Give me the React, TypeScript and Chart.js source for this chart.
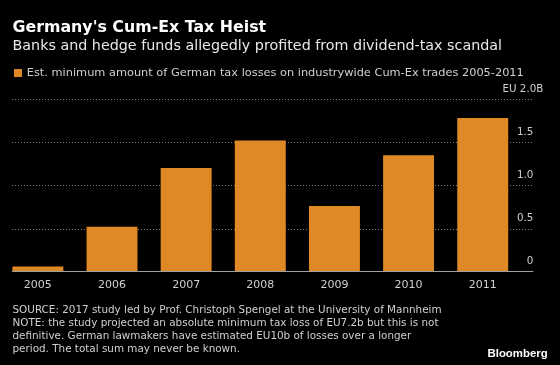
import React, { useEffect, useRef } from "react";
import { Chart, registerables } from "chart.js";

Chart.register(...registerables);

// ---- data ----
const years: string[] = ["2005", "2006", "2007", "2008", "2009", "2010", "2011"];
const taxLossesEurBn: number[] = [0.06, 0.52, 1.2, 1.52, 0.76, 1.35, 1.78];
const yTickValues: number[] = [0, 0.5, 1.0, 1.5, 2.0];
const yTickLabels: string[] = ["0", "0.5", "1.0", "1.5", "EU 2.0B"];

const titleText = "Germany's Cum-Ex Tax Heist";
const subtitleText = "Banks and hedge funds allegedly profited from dividend-tax scandal";
const legendText = "Est. minimum amount of German tax losses on industrywide Cum-Ex trades 2005-2011";
const footnoteLines: string[] = [
  "SOURCE: 2017 study led by Prof. Christoph Spengel at the University of Mannheim",
  "NOTE: the study projected an absolute minimum tax loss of EU7.2b but this is not",
  "definitive. German lawmakers have estimated EU10b of losses over a longer",
  "period. The total sum may never be known.",
];
const brandText = "Bloomberg";

// ---- style ----
const BAR_COLOR = "#de8926";
const FONT = "'DejaVu Sans', sans-serif";

const axisPlugin = {
  id: "bbgAxis",
  beforeDatasetsDraw(chart: any) {
    const { ctx, chartArea, scales } = chart;
    const y = scales.y;
    const first = chart.getDatasetMeta(0).data[0] as any;
    const left = Math.round(first.x - first.width / 2);
    const right = chartArea.right + 13.5;
    ctx.save();
    ctx.strokeStyle = "#7a7a7a";
    ctx.lineWidth = 1;
    ctx.setLineDash([1, 2]);
    yTickValues.forEach((v) => {
      if (v === 0) return;
      const py = Math.round(y.getPixelForValue(v)) + 0.5;
      ctx.beginPath();
      ctx.moveTo(left, py);
      ctx.lineTo(right, py);
      ctx.stroke();
    });
    ctx.restore();
  },
  afterDatasetsDraw(chart: any) {
    const { ctx, chartArea, scales } = chart;
    const y = scales.y;
    const x = scales.x;
    const first = chart.getDatasetMeta(0).data[0] as any;
    const left = Math.round(first.x - first.width / 2);
    const right = chartArea.right + 13.5;
    ctx.save();
    // baseline
    const y0 = y.getPixelForValue(0);
    ctx.strokeStyle = "#a0a0a0";
    ctx.lineWidth = 1;
    ctx.beginPath();
    ctx.moveTo(left, Math.round(y0) - 0.5);
    ctx.lineTo(right, Math.round(y0) - 0.5);
    ctx.stroke();
    // y tick labels
    ctx.fillStyle = "#cfcfcf";
    ctx.font = `10.3px ${FONT}`;
    ctx.textAlign = "right";
    ctx.textBaseline = "alphabetic";
    yTickValues.forEach((v, i) => {
      const py = y.getPixelForValue(v);
      const label = yTickLabels[i];
      const xr = i === yTickValues.length - 1 ? right + 10 : right;
      ctx.fillText(label, xr, py - 7.5);
    });
    // x tick labels
    ctx.font = `11px ${FONT}`;
    ctx.textAlign = "center";
    years.forEach((yr, i) => {
      ctx.fillText(yr, x.getPixelForValue(i), y0 + 16.6);
    });
    ctx.restore();
  },
};

function BarChart() {
  const ref = useRef<HTMLCanvasElement | null>(null);
  useEffect(() => {
    if (!ref.current) return;
    const chart = new Chart(ref.current, {
      type: "bar",
      data: {
        labels: years,
        datasets: [
          {
            label: legendText,
            data: taxLossesEurBn,
            backgroundColor: BAR_COLOR,
            borderWidth: 0,
            categoryPercentage: 1,
            barPercentage: 0.687,
          },
        ],
      },
      options: {
        animation: false,
        responsive: false,
        maintainAspectRatio: false,
        devicePixelRatio: 1,
        layout: { padding: { left: 0.8, right: 40.2, top: 99, bottom: 93.3 } },
        plugins: {
          legend: { display: false },
          tooltip: { enabled: false },
          title: { display: false },
        },
        scales: {
          x: { display: false },
          y: { display: false, min: 0, max: 2 },
        },
      },
      plugins: [axisPlugin],
    });
    return () => chart.destroy();
  }, []);
  return (
    <canvas
      ref={ref}
      width={560}
      height={365}
      style={{ position: "absolute", left: 0, top: 0, width: 560, height: 365 }}
    />
  );
}

export default function App() {
  const abs = (o: React.CSSProperties): React.CSSProperties => ({
    position: "absolute",
    whiteSpace: "nowrap",
    margin: 0,
    fontFamily: FONT,
    ...o,
  });
  return (
    <div
      style={{
        position: "fixed",
        left: 0,
        top: 0,
        width: 560,
        height: 365,
        background: "#000",
        overflow: "hidden",
      }}
    >
      <BarChart />
      <div style={abs({ left: 12.5, top: 17.6, fontSize: 15.8, lineHeight: "18px", fontWeight: "bold", color: "#ffffff" })}>
        {titleText}
      </div>
      <div style={abs({ left: 12.5, top: 36.5, fontSize: 14.3, lineHeight: "17px", color: "#e8e8e8" })}>
        {subtitleText}
      </div>
      <div style={abs({ left: 14, top: 68.5, width: 8, height: 8, background: BAR_COLOR })} />
      <div style={abs({ left: 26.8, top: 66.1, fontSize: 11.35, lineHeight: "13px", color: "#d0d0d0" })}>
        {legendText}
      </div>
      <div style={abs({ left: 12.5, top: 303.3, fontSize: 10.4, lineHeight: "12.8px", color: "#d0d0d0" })}>
        {footnoteLines.map((l, i) => (
          <div key={i}>{l}</div>
        ))}
      </div>
      <div
        style={abs({
          left: 487.5,
          top: 346.9,
          fontSize: 11.4,
          lineHeight: "13px",
          fontWeight: "bold",
          color: "#ffffff",
          fontFamily: "'Liberation Sans', Arial, sans-serif",
        })}
      >
        {brandText}
      </div>
    </div>
  );
}
